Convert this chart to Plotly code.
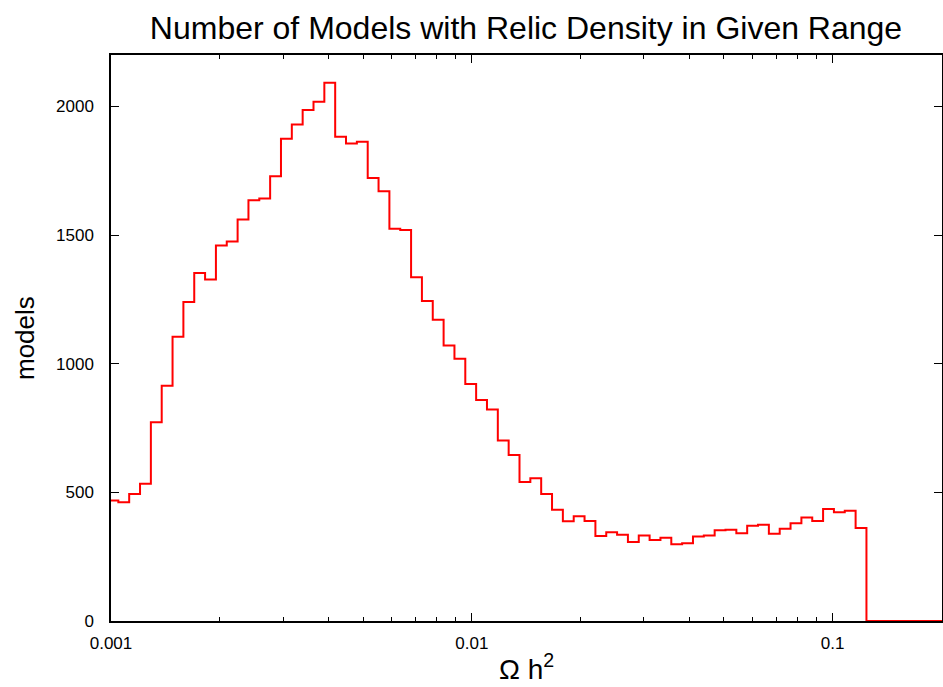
import plotly.graph_objects as go

# Histogram of log10(Omega h^2): bin layout (log10 units) and counts
bin_log_start = -3.0097
bin_log_width = 0.03005
counts = [468, 462, 494, 533, 773, 914, 1105, 1240, 1353, 1327,
          1460, 1475, 1561, 1635, 1642, 1729, 1874, 1930, 1986, 2018,
          2092, 1882, 1856, 1863, 1722, 1670, 1525, 1520, 1336, 1244,
          1171, 1071, 1019, 921, 859, 822, 702, 645, 540, 555,
          494, 432, 388, 407, 389, 330, 345, 335, 307, 332,
          315, 324, 298, 302, 328, 332, 353, 355, 341, 370,
          374, 339, 359, 380, 402, 389, 435, 423, 429, 361,
          0, 0, 0, 0, 0, 0, 0, 0, 0, 0]

x_major = [0.001, 0.01, 0.1]
x_major_text = ["0.001", "0.01", "0.1"]
x_minor = [m * d for d in (0.001, 0.01, 0.1) for m in range(2, 10)]
y_ticks = [0, 500, 1000, 1500, 2000]

edges = [10 ** (bin_log_start + i * bin_log_width) for i in range(len(counts) + 1)]
xs = edges
ys = counts + [counts[-1]]

fig = go.Figure()
fig.add_trace(go.Scatter(x=xs, y=ys, mode="lines", line=dict(color="#ff0000", width=2, shape="hv"),
                         showlegend=False, hoverinfo="skip"))

W, H = 943, 687
font = "Liberation Sans, Arial, sans-serif"
fig.update_layout(
    width=W, height=H,
    margin=dict(l=111, r=1, t=55, b=66, autoexpand=False),
    paper_bgcolor="white", plot_bgcolor="white",
    font=dict(family=font, color="black", size=17),
    title=dict(text="Number of Models with Relic Density in Given Range",
               x=526 / W, xanchor="center", yref="container", y=1 - 28 / H, yanchor="middle",
               font=dict(size=32, family=font, color="black")),
    annotations=[
        dict(text="Ω h<sup>2</sup>", xref="paper", yref="paper", x=0.5, y=-66 / 566,
             xanchor="center", yanchor="bottom", showarrow=False, font=dict(size=28, family=font, color="black")),
        dict(text="models", xref="paper", yref="paper", x=(25 - 111) / 831, y=0.5, textangle=-90,
             xanchor="center", yanchor="middle", showarrow=False, font=dict(size=26, family=font, color="black")),
    ],
)
fig.update_xaxes(
    type="log", range=[-3, -0.6968], automargin=False,
    tickmode="array", tickvals=x_major, ticktext=x_major_text,
    ticks="inside", ticklen=8, tickwidth=1, tickcolor="black",
    minor=dict(tickmode="array", tickvals=x_minor, ticks="inside", ticklen=4, tickwidth=1, tickcolor="black", showgrid=False),
    showline=True, linecolor="black", linewidth=1.5, mirror="ticks",
    showgrid=False, zeroline=False, ticklabelstandoff=6,
    tickfont=dict(size=17, family=font),
)
fig.update_yaxes(
    range=[0, 2200], automargin=False,
    tickmode="array", tickvals=y_ticks,
    ticks="inside", ticklen=8, tickwidth=1, tickcolor="black",
    showline=True, linecolor="black", linewidth=1.5, mirror="ticks",
    showgrid=False, zeroline=False, ticklabelstandoff=12,
    tickfont=dict(size=17, family=font),
)

fig.write_html("out.html", config={"displayModeBar": False},
               post_script="document.body.style.margin='0';document.body.style.overflow='hidden';")
